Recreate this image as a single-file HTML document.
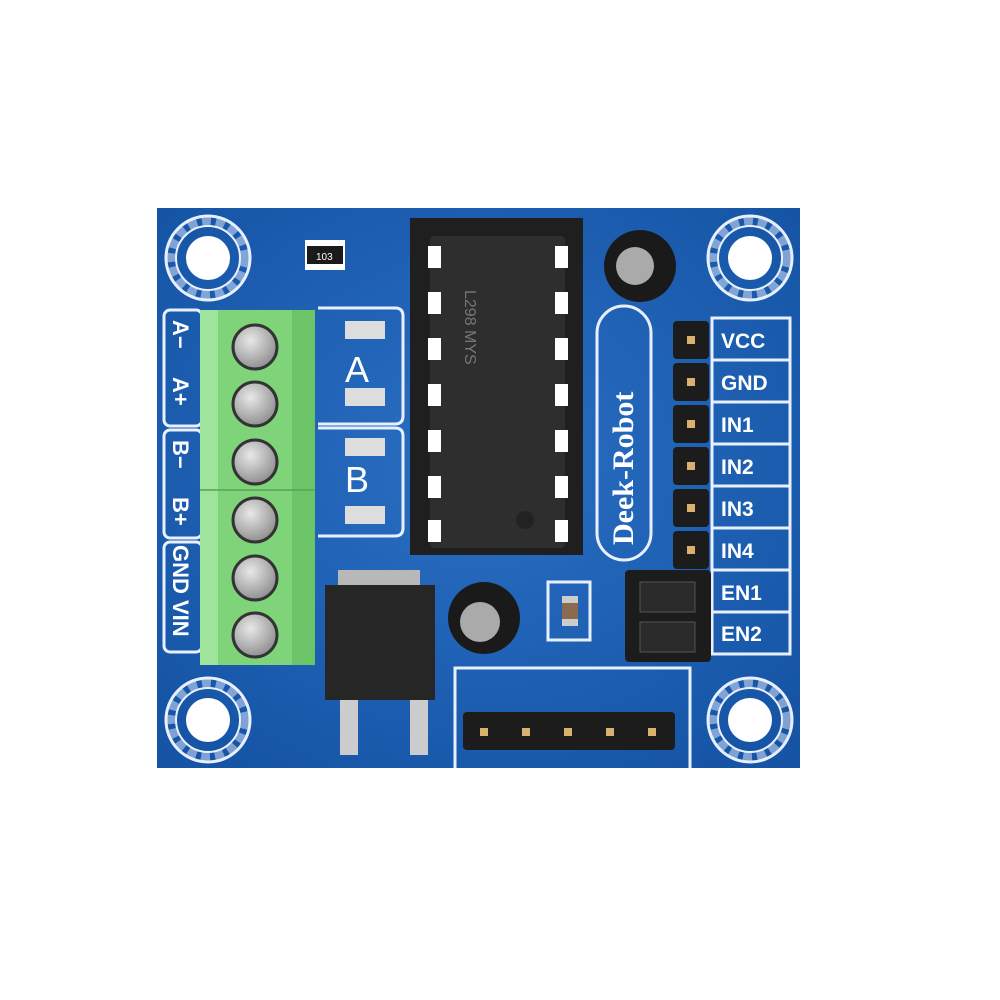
<!DOCTYPE html>
<html><head><meta charset="utf-8"><style>html,body{margin:0;padding:0;background:#fff}svg{display:block}</style></head>
<body>
<svg width="1000" height="1000" viewBox="0 0 1000 1000" xmlns="http://www.w3.org/2000/svg" font-family="Liberation Sans, sans-serif">
<defs>
<radialGradient id="bg" cx="50%" cy="45%" r="65%"><stop offset="0" stop-color="#2a6fc4"/><stop offset="1" stop-color="#1655a6"/></radialGradient>
<radialGradient id="scr" cx="40%" cy="35%" r="70%"><stop offset="0" stop-color="#e8e8e8"/><stop offset="1" stop-color="#8a8a8a"/></radialGradient>
<g id="hole"><circle r="42" fill="none" stroke="#e8f0ff" stroke-width="3"/><circle r="32" fill="none" stroke="#e8f0ff" stroke-width="2"/><circle r="37" fill="none" stroke="#e8f0ff" stroke-width="9" stroke-dasharray="9 5" opacity="0.5"/><circle r="22" fill="#fff"/></g>
<g id="pin"><rect x="-18" y="-19" width="36" height="38" rx="4" fill="#1c1c1c"/><rect x="-4" y="-4" width="8" height="8" fill="#d8b070"/></g>
</defs>
<rect x="157" y="208" width="643" height="560" fill="url(#bg)"/>
<use href="#hole" x="208" y="258"/><use href="#hole" x="750" y="258"/><use href="#hole" x="208" y="720"/><use href="#hole" x="750" y="720"/>
<g fill="none" stroke="#e8f0ff" stroke-width="3">
<rect x="164" y="310" width="38" height="116" rx="6"/><rect x="164" y="430" width="38" height="108" rx="6"/><rect x="164" y="542" width="38" height="110" rx="6"/>
<path d="M318 308 H395 Q403 308 403 316 V416 Q403 424 395 424 H318"/><path d="M318 428 H395 Q403 428 403 436 V528 Q403 536 395 536 H318"/>
<rect x="597" y="306" width="54" height="254" rx="27"/>
<rect x="712" y="318" width="78" height="336"/>
<path d="M712 360 H790 M712 402 H790 M712 444 H790 M712 486 H790 M712 528 H790 M712 570 H790 M712 612 H790"/>
<path d="M455 768 V668 H690 V768"/>
<rect x="548" y="582" width="42" height="58"/>
</g>
<g fill="#fff" font-weight="bold" font-size="22">
<text transform="translate(173,320) rotate(90)">A−</text><text transform="translate(173,377) rotate(90)">A+</text>
<text transform="translate(173,440) rotate(90)">B−</text><text transform="translate(173,497) rotate(90)">B+</text>
<text transform="translate(173,545) rotate(90)">GND</text><text transform="translate(173,600) rotate(90)">VIN</text>
<text x="721" y="348" font-size="21">VCC</text><text x="721" y="390" font-size="21">GND</text><text x="721" y="432" font-size="21">IN1</text>
<text x="721" y="474" font-size="21">IN2</text><text x="721" y="516" font-size="21">IN3</text><text x="721" y="558" font-size="21">IN4</text>
<text x="721" y="600" font-size="21">EN1</text><text x="721" y="641" font-size="21">EN2</text>
<text x="345" y="382" font-size="36" font-weight="normal">A</text><text x="345" y="492" font-size="36" font-weight="normal">B</text>
</g>
<text transform="translate(633,545) rotate(-90)" fill="#fff" font-family="Liberation Serif, serif" font-size="30" font-weight="bold">Deek-Robot</text>
<rect x="200" y="310" width="115" height="355" fill="#7fd47a"/>
<rect x="200" y="310" width="18" height="355" fill="#9ee49a"/><rect x="292" y="310" width="23" height="355" fill="#6cc468"/>
<line x1="200" y1="490" x2="315" y2="490" stroke="#5aa055" stroke-width="1.5"/>
<g stroke="#333" stroke-width="3"><circle cx="255" cy="347" r="22" fill="url(#scr)"/><circle cx="255" cy="404" r="22" fill="url(#scr)"/><circle cx="255" cy="462" r="22" fill="url(#scr)"/><circle cx="255" cy="520" r="22" fill="url(#scr)"/><circle cx="255" cy="578" r="22" fill="url(#scr)"/><circle cx="255" cy="635" r="22" fill="url(#scr)"/></g>
<g fill="#ddd"><rect x="345" y="321" width="40" height="18"/><rect x="345" y="388" width="40" height="18"/><rect x="345" y="438" width="40" height="18"/><rect x="345" y="506" width="40" height="18"/></g>
<rect x="305" y="240" width="40" height="30" fill="#fff"/><rect x="307" y="246" width="36" height="18" fill="#1a1a1a"/><text x="316" y="260" fill="#fff" font-size="10">103</text>
<rect x="410" y="218" width="173" height="337" fill="#1f1f1f"/>
<rect x="430" y="236" width="135" height="312" rx="4" fill="#2e2e2e"/>
<g fill="#fff"><rect x="428" y="246" width="13" height="22"/><rect x="428" y="292" width="13" height="22"/><rect x="428" y="338" width="13" height="22"/><rect x="428" y="384" width="13" height="22"/><rect x="428" y="430" width="13" height="22"/><rect x="428" y="476" width="13" height="22"/><rect x="428" y="520" width="13" height="22"/>
<rect x="555" y="246" width="13" height="22"/><rect x="555" y="292" width="13" height="22"/><rect x="555" y="338" width="13" height="22"/><rect x="555" y="384" width="13" height="22"/><rect x="555" y="430" width="13" height="22"/><rect x="555" y="476" width="13" height="22"/><rect x="555" y="520" width="13" height="22"/></g>
<circle cx="525" cy="520" r="9" fill="#222"/>
<text transform="translate(465,290) rotate(90)" fill="#777" font-size="16">L298 MYS</text>
<circle cx="640" cy="266" r="36" fill="#1a1a1a"/><circle cx="635" cy="266" r="19" fill="#aaa"/>
<circle cx="484" cy="618" r="36" fill="#1a1a1a"/><circle cx="480" cy="622" r="20" fill="#aaa"/>
<rect x="562" y="596" width="16" height="30" fill="#8a6a50"/><rect x="562" y="596" width="16" height="7" fill="#ccc"/><rect x="562" y="619" width="16" height="7" fill="#ccc"/>
<rect x="338" y="570" width="82" height="20" fill="#b8b8b8"/>
<rect x="325" y="585" width="110" height="115" fill="#262626"/>
<rect x="340" y="700" width="18" height="55" fill="#ccc"/><rect x="410" y="700" width="18" height="55" fill="#ccc"/>
<g><use href="#pin" x="691" y="340"/><use href="#pin" x="691" y="382"/><use href="#pin" x="691" y="424"/><use href="#pin" x="691" y="466"/><use href="#pin" x="691" y="508"/><use href="#pin" x="691" y="550"/></g>
<rect x="625" y="570" width="86" height="92" rx="4" fill="#1c1c1c"/>
<rect x="640" y="582" width="55" height="30" fill="#2a2a2a" stroke="#555"/><rect x="640" y="622" width="55" height="30" fill="#2a2a2a" stroke="#555"/>
<rect x="463" y="712" width="212" height="38" rx="4" fill="#1c1c1c"/>
<g fill="#d8b070"><rect x="480" y="728" width="8" height="8"/><rect x="522" y="728" width="8" height="8"/><rect x="564" y="728" width="8" height="8"/><rect x="606" y="728" width="8" height="8"/><rect x="648" y="728" width="8" height="8"/></g>
</svg>
</body></html>
